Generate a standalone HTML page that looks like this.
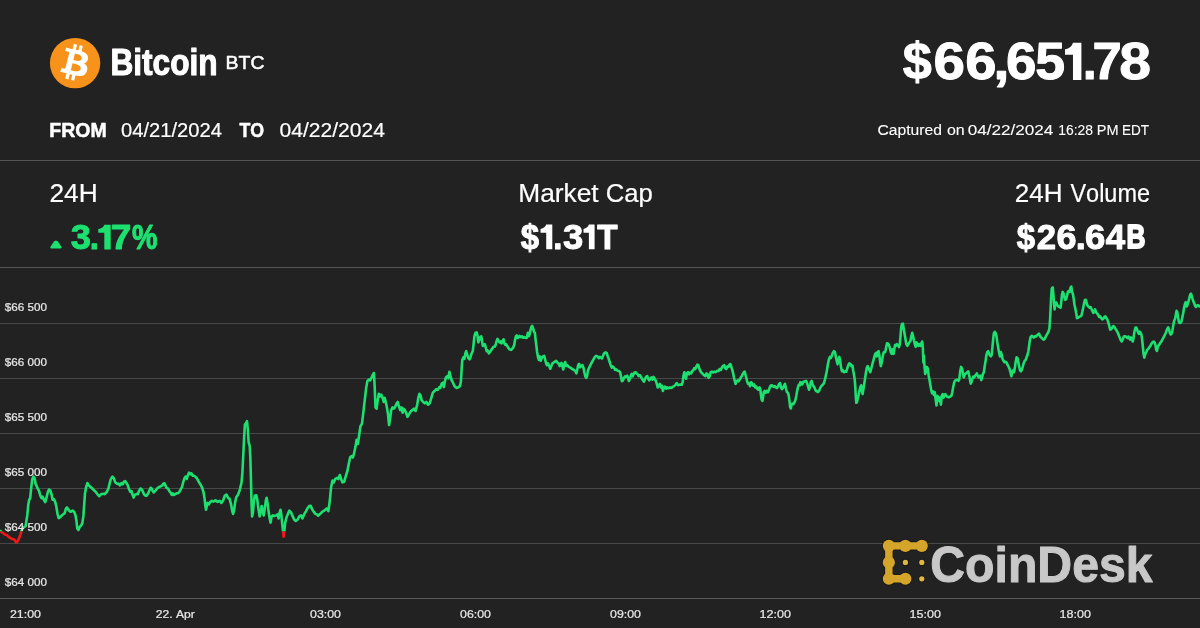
<!DOCTYPE html>
<html><head><meta charset="utf-8"><title>Bitcoin BTC price</title>
<style>
html,body{margin:0;padding:0;background:#222222;}
body{width:1200px;height:628px;overflow:hidden;font-family:"Liberation Sans",sans-serif;}
svg{display:block;will-change:transform;font-family:"Liberation Sans",sans-serif;font-kerning:none;}
text{white-space:pre;}
</style></head><body>
<svg width="1200" height="628" viewBox="0 0 1200 628">
<rect width="1200" height="628" fill="#222222"/>
<rect x="0" y="160" width="1200" height="1" fill="#555555"/>
<rect x="0" y="267" width="1200" height="1" fill="#555555"/>
<rect x="0" y="323" width="1200" height="1" fill="#484848"/>
<rect x="0" y="378" width="1200" height="1" fill="#484848"/>
<rect x="0" y="433" width="1200" height="1" fill="#484848"/>
<rect x="0" y="488" width="1200" height="1" fill="#484848"/>
<rect x="0" y="543" width="1200" height="1" fill="#484848"/>
<rect x="0" y="598" width="1200" height="1" fill="#5a5a5a"/>
<defs><clipPath id="up"><rect x="0" y="260" width="1200" height="271.4"/></clipPath><clipPath id="dn"><rect x="0" y="531.4" width="1200" height="80"/></clipPath></defs>
<path d="M0.0 530.8 L2.9 533.0 L4.8 534.4 L6.7 534.9 L8.6 536.8 L11.5 538.7 L14.3 539.6 L16.2 542.5 L17.7 541.1 L19.1 538.2 L20.5 534.4 L21.5 531.0 L22.4 528.7 L23.2 527.7 L25.6 526.1 L27.2 515.7 L28.3 504.6 L29.2 499.8 L30.2 498.2 L31.1 488.7 L32.3 479.1 L33.5 476.7 L34.6 478.3 L35.6 483.9 L36.7 486.3 L37.8 488.7 L39.1 491.1 L40.4 495.8 L41.5 498.2 L42.6 496.6 L43.9 499.8 L45.2 502.2 L46.4 498.2 L47.7 492.6 L49.0 489.5 L50.3 490.3 L51.5 494.2 L52.6 499.8 L53.8 499.0 L55.0 501.4 L56.3 506.2 L57.4 513.3 L58.7 518.1 L60.1 517.3 L61.7 515.7 L63.3 514.1 L64.6 513.3 L65.9 508.6 L67.0 507.5 L68.2 509.4 L69.7 511.3 L71.0 511.8 L72.5 510.6 L74.1 511.8 L75.4 514.9 L76.4 520.5 L77.3 528.5 L78.4 530.1 L79.7 526.9 L81.3 525.3 L82.4 522.9 L83.4 515.7 L84.2 504.6 L85.0 493.4 L86.1 487.1 L87.4 483.1 L88.8 485.5 L90.9 487.1 L93.2 489.5 L95.6 491.8 L97.5 494.2 L99.1 496.3 L101.2 494.2 L102.8 493.8 L104.7 494.2 L106.8 491.8 L108.4 488.7 L109.5 483.9 L110.8 479.1 L112.4 476.7 L113.9 478.3 L115.2 482.3 L116.8 483.6 L118.4 483.9 L118.8 483.8 L119.9 485.4 L121.5 483.0 L122.7 484.3 L124.0 481.7 L125.1 481.1 L126.4 483.0 L127.8 485.4 L129.1 489.4 L130.4 491.8 L131.5 491.0 L132.6 494.9 L133.6 497.6 L134.7 494.9 L136.3 494.1 L137.9 494.1 L139.0 491.0 L140.3 488.6 L141.5 489.0 L142.6 491.0 L143.9 494.1 L145.4 495.7 L146.6 495.7 L148.2 493.3 L149.5 490.2 L150.6 487.8 L151.7 488.6 L152.7 491.0 L153.8 492.5 L155.1 491.0 L156.5 489.4 L157.8 487.8 L159.4 487.0 L161.0 486.2 L162.2 485.4 L163.3 483.8 L164.5 483.3 L165.4 485.4 L166.5 487.8 L168.1 488.6 L169.2 491.0 L170.5 492.5 L171.8 494.9 L172.9 493.3 L174.0 494.9 L175.3 494.1 L176.6 493.3 L178.2 493.3 L179.4 491.8 L180.7 489.4 L182.0 487.0 L183.2 482.2 L184.5 478.2 L185.6 476.6 L186.8 479.0 L187.7 475.8 L189.1 472.6 L190.4 474.2 L191.5 473.4 L192.8 475.8 L194.4 475.8 L196.0 477.4 L197.3 479.0 L198.5 481.4 L200.0 483.8 L201.1 485.4 L202.4 488.6 L203.6 492.5 L204.6 498.9 L205.4 506.1 L206.0 509.7 L206.8 506.1 L207.6 502.9 L208.7 504.5 L210.3 501.9 L212.0 500.9 L213.7 501.5 L215.5 500.3 L217.6 501.9 L219.7 500.9 L221.3 503.0 L223.2 500.3 L224.8 495.7 L226.5 494.7 L228.1 497.8 L229.6 498.8 L231.0 504.0 L232.3 511.3 L233.1 513.9 L234.1 510.2 L235.2 501.9 L236.4 496.8 L237.7 495.3 L238.9 492.6 L240.1 488.5 L241.4 483.3 L242.4 473.0 L243.2 456.4 L244.1 437.8 L244.9 424.3 L245.9 423.3 L247.0 421.2 L247.8 429.5 L248.6 441.9 L249.7 446.1 L250.3 456.4 L250.9 477.1 L251.5 501.9 L252.1 516.4 L253.0 512.3 L253.8 501.9 L254.8 495.7 L256.3 495.3 L257.3 499.9 L258.3 508.2 L259.6 516.4 L260.8 510.2 L261.7 506.1 L262.7 512.3 L263.7 515.4 L264.8 508.2 L265.8 500.9 L266.6 497.8 L267.7 504.0 L268.7 512.3 L269.7 518.5 L270.6 522.6 L271.6 516.4 L272.8 515.4 L274.5 516.0 L276.1 515.4 L277.6 514.4 L278.6 518.5 L279.7 512.3 L280.5 509.8 L281.3 514.4 L282.1 522.6 L283.0 530.9 L283.6 536.7 L284.4 530.9 L285.2 522.6 L286.5 517.5 L287.9 513.9 L289.4 510.6 L291.0 512.3 L292.7 516.4 L294.1 519.5 L295.8 521.0 L297.7 519.5 L299.3 516.4 L301.0 515.4 L302.4 518.5 L304.1 514.4 L305.9 511.3 L307.6 508.2 L309.2 506.1 L310.7 505.7 L312.1 509.2 L313.8 511.9 L315.4 513.9 L317.5 514.8 L318.1 515.7 L320.3 513.8 L322.5 511.6 L324.9 510.2 L326.8 508.3 L328.4 511.1 L329.8 500.8 L331.1 487.2 L332.5 480.5 L333.8 482.4 L335.2 479.1 L337.1 477.8 L338.4 479.1 L339.8 475.0 L341.1 479.1 L342.5 482.4 L344.1 481.8 L345.7 476.4 L347.4 471.0 L348.7 464.2 L350.1 457.5 L351.4 456.1 L352.8 457.5 L354.1 453.4 L355.5 446.6 L356.6 439.9 L357.9 443.9 L359.3 434.4 L360.4 426.3 L362.0 423.6 L363.3 412.8 L364.7 400.6 L366.1 388.4 L367.4 381.1 L368.8 379.5 L370.1 380.3 L371.5 377.6 L372.8 374.9 L373.9 373.0 L374.7 387.1 L375.5 407.4 L376.6 408.7 L377.7 400.6 L378.8 393.8 L379.9 396.5 L381.2 394.6 L382.6 397.9 L383.7 402.0 L384.7 397.9 L385.8 402.0 L386.9 407.4 L388.0 414.1 L389.1 425.0 L390.2 418.2 L391.2 410.1 L392.6 407.4 L393.9 408.7 L395.3 406.6 L396.7 403.3 L397.7 402.0 L398.8 406.0 L400.2 410.1 L401.5 407.4 L402.6 412.8 L403.7 408.7 L404.8 410.1 L406.1 412.8 L407.5 416.8 L409.1 414.1 L410.7 411.4 L412.4 410.1 L414.0 408.7 L415.6 410.9 L417.2 404.7 L418.3 397.9 L419.4 393.8 L420.5 395.2 L421.6 400.1 L423.2 402.0 L424.8 403.3 L426.4 402.0 L428.1 404.7 L429.7 403.3 L431.3 397.9 L432.9 392.5 L434.6 391.1 L436.2 389.2 L437.8 389.8 L439.4 387.1 L440.3 387.9 L441.7 383.6 L442.9 382.7 L443.8 387.1 L444.8 381.8 L445.9 377.4 L447.3 376.2 L448.3 378.3 L449.4 371.7 L450.4 375.7 L451.6 380.1 L453.0 382.7 L454.6 386.2 L456.4 387.9 L458.1 387.4 L459.9 386.2 L460.9 381.8 L461.6 369.6 L462.3 359.9 L463.4 357.3 L464.4 359.0 L465.3 353.8 L466.2 351.2 L467.2 354.7 L468.3 358.2 L469.5 359.4 L470.7 356.4 L471.8 352.9 L472.8 351.2 L473.5 345.0 L474.4 336.3 L475.5 332.8 L476.7 332.4 L477.6 336.3 L478.3 342.4 L479.3 339.8 L480.2 337.1 L481.3 336.3 L482.0 340.7 L482.8 345.9 L483.9 345.0 L484.8 344.2 L485.8 347.7 L486.7 351.2 L487.6 350.3 L488.8 353.4 L490.0 352.0 L491.1 350.3 L492.3 348.5 L493.5 346.8 L494.6 346.8 L495.6 345.0 L496.5 341.5 L497.5 338.9 L498.4 340.7 L499.5 342.4 L500.5 341.5 L501.6 343.3 L502.6 340.7 L503.5 339.4 L504.4 343.3 L505.3 345.0 L506.1 344.2 L507.2 345.9 L508.2 347.7 L509.5 349.4 L510.9 349.9 L512.1 348.9 L513.1 347.7 L514.2 345.0 L515.1 339.8 L515.9 336.3 L516.8 335.4 L517.7 338.0 L518.6 337.1 L519.6 335.9 L520.8 337.1 L522.1 336.3 L523.1 337.7 L524.4 337.1 L525.6 338.0 L526.8 337.7 L527.9 332.8 L528.7 336.3 L529.6 334.5 L530.5 330.1 L531.4 326.6 L532.2 325.8 L533.1 328.4 L534.0 331.9 L534.9 332.8 L535.6 339.8 L536.3 345.0 L537.1 352.0 L538.0 357.3 L538.9 359.9 L539.8 356.4 L540.8 360.8 L541.9 357.3 L543.1 356.4 L544.2 355.9 L545.0 359.0 L545.9 362.5 L546.8 365.2 L548.0 363.4 L549.2 366.1 L550.3 368.7 L551.3 366.1 L552.4 363.4 L553.6 362.5 L554.8 361.7 L556.2 360.8 L557.3 362.5 L558.5 363.4 L559.7 366.1 L561.1 363.4 L561.5 362.9 L562.4 365.9 L563.2 369.4 L564.1 364.7 L565.2 362.0 L566.0 365.9 L567.3 365.2 L568.7 366.9 L570.4 367.6 L572.2 369.0 L573.9 369.9 L575.3 371.1 L576.4 373.4 L577.4 369.0 L578.3 364.7 L579.2 363.8 L580.2 367.3 L581.3 365.9 L582.5 365.2 L583.6 368.2 L584.4 372.5 L585.3 376.4 L586.2 377.8 L587.1 376.1 L587.9 370.8 L589.2 367.6 L590.6 364.7 L592.1 362.0 L593.5 359.4 L594.9 356.8 L596.3 355.9 L597.6 356.4 L598.8 358.2 L599.9 356.8 L600.9 357.7 L602.0 358.5 L603.0 355.9 L604.1 353.3 L605.5 352.4 L606.7 352.9 L607.6 355.9 L608.6 358.5 L609.7 362.0 L610.7 365.2 L611.8 367.6 L612.8 366.4 L614.0 367.6 L615.1 369.9 L616.3 369.4 L617.7 370.8 L619.1 371.1 L620.2 372.5 L621.1 376.9 L621.9 381.3 L623.0 380.4 L624.0 377.8 L625.1 376.4 L626.1 376.9 L627.2 375.7 L628.2 378.7 L628.9 381.0 L630.0 378.7 L630.9 375.2 L631.7 373.9 L632.6 376.4 L633.5 374.3 L634.5 372.5 L635.6 372.2 L636.6 373.4 L637.7 374.3 L638.7 376.1 L639.8 375.2 L640.8 376.4 L641.9 378.7 L643.0 380.4 L644.0 381.7 L645.1 378.7 L646.1 376.9 L647.2 376.1 L648.2 378.7 L649.3 380.4 L650.3 378.7 L651.4 377.5 L652.4 379.6 L653.5 376.9 L654.5 378.7 L655.7 380.4 L656.6 383.1 L657.7 387.4 L658.7 385.7 L659.8 383.9 L660.8 387.4 L661.9 385.7 L662.9 390.9 L664.0 387.4 L665.0 386.6 L666.1 388.7 L667.1 387.4 L668.5 388.3 L669.9 387.4 L671.3 388.0 L672.7 386.9 L674.1 386.2 L675.5 384.8 L676.8 383.1 L678.0 385.2 L679.4 384.8 L680.3 384.5 L681.7 384.8 L682.7 382.2 L683.4 376.1 L684.3 372.2 L685.2 376.1 L686.0 378.7 L686.9 373.4 L688.0 372.2 L689.0 374.3 L690.1 372.5 L691.1 373.4 L692.2 371.1 L693.2 370.4 L694.3 368.2 L695.3 369.0 L696.4 366.4 L697.4 364.7 L698.3 365.2 L699.2 368.2 L700.2 370.8 L701.3 372.5 L702.7 373.9 L704.1 375.2 L705.5 376.1 L706.5 373.4 L707.6 374.3 L708.6 377.8 L709.7 376.1 L710.7 372.2 L711.8 371.7 L713.0 372.5 L714.2 371.7 L715.6 372.2 L717.0 370.8 L718.5 371.1 L719.7 369.0 L720.9 369.9 L722.0 367.3 L723.2 365.9 L724.2 365.2 L725.3 368.2 L726.3 369.0 L727.4 366.4 L728.4 366.9 L729.5 364.7 L730.5 364.1 L731.4 367.3 L732.3 369.9 L733.2 373.4 L734.0 377.8 L734.9 381.3 L735.6 383.9 L736.5 381.3 L737.5 380.4 L738.6 381.3 L739.6 379.6 L740.7 377.8 L741.8 376.1 L742.8 373.9 L743.9 372.2 L744.7 371.7 L745.6 375.2 L746.5 378.7 L747.4 382.2 L748.2 383.9 L749.1 383.1 L750.0 386.2 L751.0 382.2 L752.1 383.4 L753.1 385.7 L754.2 384.5 L755.2 387.4 L756.3 386.6 L757.3 388.7 L758.4 389.7 L759.4 387.4 L760.3 389.2 L761.0 395.3 L761.7 399.7 L762.4 400.9 L763.1 397.1 L763.8 391.8 L764.7 390.9 L765.8 392.7 L766.8 390.9 L767.9 392.2 L768.9 390.1 L769.8 387.4 L770.7 385.7 L771.7 385.2 L772.8 386.2 L773.8 386.9 L774.9 386.2 L775.9 387.4 L777.0 388.0 L778.0 386.6 L779.1 383.9 L780.1 383.1 L781.0 387.4 L781.9 389.2 L782.9 388.0 L784.0 385.7 L785.0 383.9 L785.9 388.3 L786.8 391.8 L787.8 392.7 L788.7 395.3 L789.4 400.6 L790.1 406.7 L790.8 408.5 L791.5 405.0 L792.4 403.7 L793.4 404.1 L794.5 402.3 L795.5 399.7 L796.4 395.3 L797.3 390.1 L798.2 386.2 L799.0 384.5 L800.1 385.2 L800.3 382.2 L801.3 382.7 L802.4 384.4 L803.4 381.8 L804.6 381.5 L805.9 380.9 L806.9 382.7 L808.0 386.2 L809.0 389.7 L810.1 387.1 L810.8 381.8 L811.6 380.9 L812.5 384.4 L813.6 386.2 L814.6 387.9 L815.7 390.6 L816.9 391.4 L818.1 392.0 L819.2 390.6 L820.2 387.9 L821.3 386.2 L822.5 385.0 L823.7 383.6 L824.8 380.1 L825.8 375.7 L826.9 370.4 L827.9 364.3 L829.0 359.0 L829.9 356.9 L830.7 358.2 L831.8 355.9 L832.8 352.9 L833.9 351.2 L834.9 352.0 L835.8 356.4 L836.7 360.8 L837.6 364.3 L838.5 359.9 L839.3 356.9 L840.2 360.8 L841.1 367.8 L842.0 371.3 L843.0 370.4 L844.1 372.2 L845.1 371.3 L846.2 371.7 L847.2 368.7 L848.3 365.2 L849.3 363.4 L850.4 363.9 L851.4 366.1 L852.5 365.7 L853.2 370.4 L854.0 374.8 L854.7 379.2 L855.3 387.1 L855.8 396.7 L856.3 402.8 L857.0 402.0 L857.7 398.5 L858.6 395.0 L859.5 390.6 L860.4 387.1 L861.2 385.3 L861.9 390.6 L862.6 394.1 L863.3 389.7 L864.2 384.4 L865.1 378.3 L866.0 372.2 L866.8 367.8 L867.7 366.1 L868.6 368.7 L869.5 370.4 L870.3 372.2 L871.2 368.7 L872.1 365.2 L873.1 361.7 L874.2 357.3 L875.2 353.8 L876.1 352.9 L876.8 356.4 L877.7 352.0 L878.6 351.2 L879.4 355.5 L880.1 361.7 L880.8 366.1 L881.7 362.5 L882.6 357.3 L883.5 352.9 L884.4 351.7 L885.2 352.0 L886.1 347.7 L887.0 343.3 L888.0 343.6 L888.9 345.0 L889.8 347.7 L890.7 352.0 L891.5 353.8 L892.2 349.4 L892.9 351.2 L893.6 353.8 L894.3 349.4 L895.0 345.0 L895.9 345.9 L896.8 344.2 L897.8 345.0 L898.9 347.1 L899.8 344.2 L900.5 336.3 L901.2 327.5 L902.0 324.0 L902.9 323.7 L903.8 329.3 L904.7 334.5 L905.6 339.8 L906.4 344.2 L907.3 345.9 L908.4 344.2 L909.4 342.4 L910.5 340.7 L911.3 336.3 L912.2 332.8 L913.1 336.3 L914.0 340.7 L914.8 344.2 L915.7 346.8 L916.6 342.4 L917.5 344.2 L918.3 345.9 L919.4 344.2 L920.4 345.9 L921.3 343.3 L922.2 341.5 L922.9 348.5 L923.4 362.5 L923.8 355.5 L924.5 366.1 L925.2 373.9 L926.0 371.3 L926.9 366.9 L927.8 368.7 L928.7 375.7 L929.5 380.1 L930.4 385.3 L931.3 390.6 L932.2 393.2 L933.0 391.4 L933.9 395.0 L934.8 392.3 L935.7 399.3 L936.5 405.5 L937.4 395.8 L938.3 397.6 L939.2 401.1 L940.1 397.6 L940.9 404.6 L941.8 395.8 L942.7 394.1 L943.6 397.6 L944.4 395.0 L945.3 394.1 L946.2 395.8 L947.4 396.7 L948.6 397.2 L950.0 396.7 L951.4 395.8 L952.3 392.3 L953.2 387.1 L954.1 382.7 L954.9 380.9 L956.2 380.1 L957.4 379.7 L958.5 380.9 L959.3 379.2 L960.2 371.3 L961.1 366.9 L962.0 368.7 L962.8 372.2 L963.7 377.4 L964.6 374.8 L965.5 373.9 L966.3 373.1 L967.2 372.2 L968.3 371.3 L969.0 374.8 L969.8 378.3 L970.7 383.6 L971.6 381.8 L972.5 378.3 L973.3 376.6 L974.2 377.4 L975.1 375.7 L976.0 374.8 L976.8 373.4 L977.7 375.7 L978.6 377.4 L979.5 376.6 L980.4 375.7 L981.2 380.1 L982.1 377.4 L983.0 373.9 L983.9 372.2 L984.7 366.1 L985.6 360.8 L986.5 354.7 L987.4 352.0 L988.2 351.2 L989.1 353.8 L990.0 355.5 L990.9 356.4 L991.7 354.7 L992.4 347.7 L993.1 339.8 L993.8 333.6 L994.7 331.9 L995.6 332.8 L996.5 336.3 L997.3 342.4 L998.2 347.7 L999.1 352.9 L1000.0 356.4 L1000.8 352.0 L1001.7 354.7 L1002.6 359.0 L1003.5 360.8 L1004.5 362.2 L1005.6 361.7 L1006.6 362.5 L1007.7 365.2 L1008.7 366.9 L1009.8 369.6 L1010.7 373.1 L1011.4 376.2 L1012.2 372.2 L1013.1 370.4 L1014.0 372.2 L1014.9 367.8 L1015.7 361.7 L1016.6 357.3 L1017.5 358.2 L1018.4 362.5 L1019.2 366.9 L1020.1 370.4 L1021.0 371.3 L1021.9 369.6 L1022.7 366.9 L1023.6 363.4 L1024.7 360.8 L1025.7 359.9 L1026.6 357.3 L1027.5 354.7 L1028.4 351.2 L1029.1 345.9 L1029.8 340.7 L1030.6 337.1 L1031.7 335.9 L1032.7 336.6 L1033.8 337.7 L1034.8 336.3 L1035.9 336.6 L1036.9 335.4 L1038.0 334.5 L1039.0 333.6 L1040.1 336.3 L1041.1 337.4 L1042.4 338.7 L1043.8 339.7 L1045.0 338.3 L1046.0 336.2 L1047.3 333.9 L1048.5 331.7 L1049.4 328.7 L1050.1 319.0 L1050.6 308.5 L1051.1 298.0 L1051.8 288.4 L1052.7 287.5 L1053.4 294.5 L1053.9 302.4 L1054.6 309.4 L1055.3 304.2 L1056.2 302.4 L1057.3 305.0 L1058.3 306.4 L1059.5 307.1 L1060.6 307.7 L1061.3 301.5 L1062.0 294.5 L1062.7 291.9 L1063.6 293.6 L1064.4 297.1 L1065.3 299.8 L1066.2 298.9 L1067.1 295.4 L1067.9 291.9 L1068.8 291.0 L1069.7 291.9 L1070.6 287.5 L1071.3 286.6 L1072.1 291.9 L1073.0 294.5 L1073.7 298.9 L1074.4 304.2 L1075.3 308.5 L1076.2 312.9 L1077.0 318.2 L1078.1 317.6 L1079.2 316.9 L1080.2 316.4 L1081.3 315.9 L1082.3 312.0 L1083.2 307.7 L1084.1 303.3 L1084.9 300.1 L1085.8 299.8 L1086.7 303.3 L1087.6 305.9 L1088.6 306.8 L1089.7 307.7 L1090.7 307.1 L1091.6 309.4 L1092.5 311.2 L1093.3 312.9 L1094.2 311.7 L1095.1 309.4 L1096.0 312.0 L1097.0 313.4 L1098.1 314.7 L1099.1 316.9 L1100.2 316.4 L1101.2 318.2 L1102.3 319.4 L1103.3 318.7 L1104.4 316.9 L1105.4 316.4 L1106.5 318.2 L1107.5 319.9 L1108.4 322.5 L1109.3 326.1 L1110.2 329.6 L1111.2 329.2 L1112.3 327.5 L1113.3 326.1 L1114.4 326.9 L1115.4 328.7 L1116.5 330.4 L1117.5 332.2 L1118.6 334.8 L1119.6 337.4 L1120.7 340.1 L1121.7 341.5 L1122.8 339.2 L1123.8 336.6 L1125.1 336.2 L1126.3 336.9 L1127.3 338.0 L1128.4 336.6 L1129.3 338.3 L1130.1 339.7 L1131.0 337.4 L1131.9 339.2 L1132.8 341.5 L1133.6 337.4 L1134.5 331.3 L1135.4 327.8 L1136.3 327.5 L1137.1 329.6 L1138.0 332.2 L1138.9 333.9 L1139.8 331.7 L1140.6 332.7 L1141.5 334.8 L1142.2 340.1 L1142.9 347.1 L1143.6 354.1 L1144.3 357.6 L1145.2 354.1 L1146.3 352.0 L1147.3 349.7 L1148.4 348.8 L1149.4 347.1 L1150.5 345.7 L1151.5 343.6 L1152.6 342.2 L1153.6 341.5 L1154.7 342.7 L1155.5 345.3 L1156.2 349.7 L1156.9 350.9 L1157.6 347.9 L1158.5 345.3 L1159.0 345.2 L1160.1 343.1 L1161.3 341.6 L1162.4 339.5 L1163.6 337.3 L1164.7 335.2 L1165.9 332.7 L1167.0 329.4 L1168.2 327.3 L1169.0 329.4 L1169.9 333.0 L1170.8 334.5 L1171.6 333.7 L1172.5 330.2 L1173.3 325.1 L1174.2 320.8 L1175.1 318.7 L1175.9 314.4 L1176.6 310.8 L1177.3 312.2 L1178.1 317.3 L1178.8 321.6 L1179.6 323.0 L1180.5 322.7 L1181.4 321.6 L1182.2 318.0 L1183.1 313.7 L1183.9 308.7 L1184.8 304.4 L1185.7 302.2 L1186.4 306.5 L1187.1 305.8 L1187.8 303.6 L1188.5 301.5 L1189.4 297.9 L1190.3 294.3 L1191.0 293.6 L1191.7 295.8 L1192.5 298.6 L1193.4 301.5 L1194.3 303.6 L1195.1 305.8 L1196.0 306.9 L1196.8 305.8 L1197.7 305.1 L1198.6 305.8 L1199.4 306.5 L1200.6 306.1" fill="none" stroke="#1de070" stroke-width="2.6" stroke-linejoin="round" stroke-linecap="round" clip-path="url(#up)"/>
<path d="M0.0 530.8 L2.9 533.0 L4.8 534.4 L6.7 534.9 L8.6 536.8 L11.5 538.7 L14.3 539.6 L16.2 542.5 L17.7 541.1 L19.1 538.2 L20.5 534.4 L21.5 531.0 L22.4 528.7 L23.2 527.7 L25.6 526.1 L27.2 515.7 L28.3 504.6 L29.2 499.8 L30.2 498.2 L31.1 488.7 L32.3 479.1 L33.5 476.7 L34.6 478.3 L35.6 483.9 L36.7 486.3 L37.8 488.7 L39.1 491.1 L40.4 495.8 L41.5 498.2 L42.6 496.6 L43.9 499.8 L45.2 502.2 L46.4 498.2 L47.7 492.6 L49.0 489.5 L50.3 490.3 L51.5 494.2 L52.6 499.8 L53.8 499.0 L55.0 501.4 L56.3 506.2 L57.4 513.3 L58.7 518.1 L60.1 517.3 L61.7 515.7 L63.3 514.1 L64.6 513.3 L65.9 508.6 L67.0 507.5 L68.2 509.4 L69.7 511.3 L71.0 511.8 L72.5 510.6 L74.1 511.8 L75.4 514.9 L76.4 520.5 L77.3 528.5 L78.4 530.1 L79.7 526.9 L81.3 525.3 L82.4 522.9 L83.4 515.7 L84.2 504.6 L85.0 493.4 L86.1 487.1 L87.4 483.1 L88.8 485.5 L90.9 487.1 L93.2 489.5 L95.6 491.8 L97.5 494.2 L99.1 496.3 L101.2 494.2 L102.8 493.8 L104.7 494.2 L106.8 491.8 L108.4 488.7 L109.5 483.9 L110.8 479.1 L112.4 476.7 L113.9 478.3 L115.2 482.3 L116.8 483.6 L118.4 483.9 L118.8 483.8 L119.9 485.4 L121.5 483.0 L122.7 484.3 L124.0 481.7 L125.1 481.1 L126.4 483.0 L127.8 485.4 L129.1 489.4 L130.4 491.8 L131.5 491.0 L132.6 494.9 L133.6 497.6 L134.7 494.9 L136.3 494.1 L137.9 494.1 L139.0 491.0 L140.3 488.6 L141.5 489.0 L142.6 491.0 L143.9 494.1 L145.4 495.7 L146.6 495.7 L148.2 493.3 L149.5 490.2 L150.6 487.8 L151.7 488.6 L152.7 491.0 L153.8 492.5 L155.1 491.0 L156.5 489.4 L157.8 487.8 L159.4 487.0 L161.0 486.2 L162.2 485.4 L163.3 483.8 L164.5 483.3 L165.4 485.4 L166.5 487.8 L168.1 488.6 L169.2 491.0 L170.5 492.5 L171.8 494.9 L172.9 493.3 L174.0 494.9 L175.3 494.1 L176.6 493.3 L178.2 493.3 L179.4 491.8 L180.7 489.4 L182.0 487.0 L183.2 482.2 L184.5 478.2 L185.6 476.6 L186.8 479.0 L187.7 475.8 L189.1 472.6 L190.4 474.2 L191.5 473.4 L192.8 475.8 L194.4 475.8 L196.0 477.4 L197.3 479.0 L198.5 481.4 L200.0 483.8 L201.1 485.4 L202.4 488.6 L203.6 492.5 L204.6 498.9 L205.4 506.1 L206.0 509.7 L206.8 506.1 L207.6 502.9 L208.7 504.5 L210.3 501.9 L212.0 500.9 L213.7 501.5 L215.5 500.3 L217.6 501.9 L219.7 500.9 L221.3 503.0 L223.2 500.3 L224.8 495.7 L226.5 494.7 L228.1 497.8 L229.6 498.8 L231.0 504.0 L232.3 511.3 L233.1 513.9 L234.1 510.2 L235.2 501.9 L236.4 496.8 L237.7 495.3 L238.9 492.6 L240.1 488.5 L241.4 483.3 L242.4 473.0 L243.2 456.4 L244.1 437.8 L244.9 424.3 L245.9 423.3 L247.0 421.2 L247.8 429.5 L248.6 441.9 L249.7 446.1 L250.3 456.4 L250.9 477.1 L251.5 501.9 L252.1 516.4 L253.0 512.3 L253.8 501.9 L254.8 495.7 L256.3 495.3 L257.3 499.9 L258.3 508.2 L259.6 516.4 L260.8 510.2 L261.7 506.1 L262.7 512.3 L263.7 515.4 L264.8 508.2 L265.8 500.9 L266.6 497.8 L267.7 504.0 L268.7 512.3 L269.7 518.5 L270.6 522.6 L271.6 516.4 L272.8 515.4 L274.5 516.0 L276.1 515.4 L277.6 514.4 L278.6 518.5 L279.7 512.3 L280.5 509.8 L281.3 514.4 L282.1 522.6 L283.0 530.9 L283.6 536.7 L284.4 530.9 L285.2 522.6 L286.5 517.5 L287.9 513.9 L289.4 510.6 L291.0 512.3 L292.7 516.4 L294.1 519.5 L295.8 521.0 L297.7 519.5 L299.3 516.4 L301.0 515.4 L302.4 518.5 L304.1 514.4 L305.9 511.3 L307.6 508.2 L309.2 506.1 L310.7 505.7 L312.1 509.2 L313.8 511.9 L315.4 513.9 L317.5 514.8 L318.1 515.7 L320.3 513.8 L322.5 511.6 L324.9 510.2 L326.8 508.3 L328.4 511.1 L329.8 500.8 L331.1 487.2 L332.5 480.5 L333.8 482.4 L335.2 479.1 L337.1 477.8 L338.4 479.1 L339.8 475.0 L341.1 479.1 L342.5 482.4 L344.1 481.8 L345.7 476.4 L347.4 471.0 L348.7 464.2 L350.1 457.5 L351.4 456.1 L352.8 457.5 L354.1 453.4 L355.5 446.6 L356.6 439.9 L357.9 443.9 L359.3 434.4 L360.4 426.3 L362.0 423.6 L363.3 412.8 L364.7 400.6 L366.1 388.4 L367.4 381.1 L368.8 379.5 L370.1 380.3 L371.5 377.6 L372.8 374.9 L373.9 373.0 L374.7 387.1 L375.5 407.4 L376.6 408.7 L377.7 400.6 L378.8 393.8 L379.9 396.5 L381.2 394.6 L382.6 397.9 L383.7 402.0 L384.7 397.9 L385.8 402.0 L386.9 407.4 L388.0 414.1 L389.1 425.0 L390.2 418.2 L391.2 410.1 L392.6 407.4 L393.9 408.7 L395.3 406.6 L396.7 403.3 L397.7 402.0 L398.8 406.0 L400.2 410.1 L401.5 407.4 L402.6 412.8 L403.7 408.7 L404.8 410.1 L406.1 412.8 L407.5 416.8 L409.1 414.1 L410.7 411.4 L412.4 410.1 L414.0 408.7 L415.6 410.9 L417.2 404.7 L418.3 397.9 L419.4 393.8 L420.5 395.2 L421.6 400.1 L423.2 402.0 L424.8 403.3 L426.4 402.0 L428.1 404.7 L429.7 403.3 L431.3 397.9 L432.9 392.5 L434.6 391.1 L436.2 389.2 L437.8 389.8 L439.4 387.1 L440.3 387.9 L441.7 383.6 L442.9 382.7 L443.8 387.1 L444.8 381.8 L445.9 377.4 L447.3 376.2 L448.3 378.3 L449.4 371.7 L450.4 375.7 L451.6 380.1 L453.0 382.7 L454.6 386.2 L456.4 387.9 L458.1 387.4 L459.9 386.2 L460.9 381.8 L461.6 369.6 L462.3 359.9 L463.4 357.3 L464.4 359.0 L465.3 353.8 L466.2 351.2 L467.2 354.7 L468.3 358.2 L469.5 359.4 L470.7 356.4 L471.8 352.9 L472.8 351.2 L473.5 345.0 L474.4 336.3 L475.5 332.8 L476.7 332.4 L477.6 336.3 L478.3 342.4 L479.3 339.8 L480.2 337.1 L481.3 336.3 L482.0 340.7 L482.8 345.9 L483.9 345.0 L484.8 344.2 L485.8 347.7 L486.7 351.2 L487.6 350.3 L488.8 353.4 L490.0 352.0 L491.1 350.3 L492.3 348.5 L493.5 346.8 L494.6 346.8 L495.6 345.0 L496.5 341.5 L497.5 338.9 L498.4 340.7 L499.5 342.4 L500.5 341.5 L501.6 343.3 L502.6 340.7 L503.5 339.4 L504.4 343.3 L505.3 345.0 L506.1 344.2 L507.2 345.9 L508.2 347.7 L509.5 349.4 L510.9 349.9 L512.1 348.9 L513.1 347.7 L514.2 345.0 L515.1 339.8 L515.9 336.3 L516.8 335.4 L517.7 338.0 L518.6 337.1 L519.6 335.9 L520.8 337.1 L522.1 336.3 L523.1 337.7 L524.4 337.1 L525.6 338.0 L526.8 337.7 L527.9 332.8 L528.7 336.3 L529.6 334.5 L530.5 330.1 L531.4 326.6 L532.2 325.8 L533.1 328.4 L534.0 331.9 L534.9 332.8 L535.6 339.8 L536.3 345.0 L537.1 352.0 L538.0 357.3 L538.9 359.9 L539.8 356.4 L540.8 360.8 L541.9 357.3 L543.1 356.4 L544.2 355.9 L545.0 359.0 L545.9 362.5 L546.8 365.2 L548.0 363.4 L549.2 366.1 L550.3 368.7 L551.3 366.1 L552.4 363.4 L553.6 362.5 L554.8 361.7 L556.2 360.8 L557.3 362.5 L558.5 363.4 L559.7 366.1 L561.1 363.4 L561.5 362.9 L562.4 365.9 L563.2 369.4 L564.1 364.7 L565.2 362.0 L566.0 365.9 L567.3 365.2 L568.7 366.9 L570.4 367.6 L572.2 369.0 L573.9 369.9 L575.3 371.1 L576.4 373.4 L577.4 369.0 L578.3 364.7 L579.2 363.8 L580.2 367.3 L581.3 365.9 L582.5 365.2 L583.6 368.2 L584.4 372.5 L585.3 376.4 L586.2 377.8 L587.1 376.1 L587.9 370.8 L589.2 367.6 L590.6 364.7 L592.1 362.0 L593.5 359.4 L594.9 356.8 L596.3 355.9 L597.6 356.4 L598.8 358.2 L599.9 356.8 L600.9 357.7 L602.0 358.5 L603.0 355.9 L604.1 353.3 L605.5 352.4 L606.7 352.9 L607.6 355.9 L608.6 358.5 L609.7 362.0 L610.7 365.2 L611.8 367.6 L612.8 366.4 L614.0 367.6 L615.1 369.9 L616.3 369.4 L617.7 370.8 L619.1 371.1 L620.2 372.5 L621.1 376.9 L621.9 381.3 L623.0 380.4 L624.0 377.8 L625.1 376.4 L626.1 376.9 L627.2 375.7 L628.2 378.7 L628.9 381.0 L630.0 378.7 L630.9 375.2 L631.7 373.9 L632.6 376.4 L633.5 374.3 L634.5 372.5 L635.6 372.2 L636.6 373.4 L637.7 374.3 L638.7 376.1 L639.8 375.2 L640.8 376.4 L641.9 378.7 L643.0 380.4 L644.0 381.7 L645.1 378.7 L646.1 376.9 L647.2 376.1 L648.2 378.7 L649.3 380.4 L650.3 378.7 L651.4 377.5 L652.4 379.6 L653.5 376.9 L654.5 378.7 L655.7 380.4 L656.6 383.1 L657.7 387.4 L658.7 385.7 L659.8 383.9 L660.8 387.4 L661.9 385.7 L662.9 390.9 L664.0 387.4 L665.0 386.6 L666.1 388.7 L667.1 387.4 L668.5 388.3 L669.9 387.4 L671.3 388.0 L672.7 386.9 L674.1 386.2 L675.5 384.8 L676.8 383.1 L678.0 385.2 L679.4 384.8 L680.3 384.5 L681.7 384.8 L682.7 382.2 L683.4 376.1 L684.3 372.2 L685.2 376.1 L686.0 378.7 L686.9 373.4 L688.0 372.2 L689.0 374.3 L690.1 372.5 L691.1 373.4 L692.2 371.1 L693.2 370.4 L694.3 368.2 L695.3 369.0 L696.4 366.4 L697.4 364.7 L698.3 365.2 L699.2 368.2 L700.2 370.8 L701.3 372.5 L702.7 373.9 L704.1 375.2 L705.5 376.1 L706.5 373.4 L707.6 374.3 L708.6 377.8 L709.7 376.1 L710.7 372.2 L711.8 371.7 L713.0 372.5 L714.2 371.7 L715.6 372.2 L717.0 370.8 L718.5 371.1 L719.7 369.0 L720.9 369.9 L722.0 367.3 L723.2 365.9 L724.2 365.2 L725.3 368.2 L726.3 369.0 L727.4 366.4 L728.4 366.9 L729.5 364.7 L730.5 364.1 L731.4 367.3 L732.3 369.9 L733.2 373.4 L734.0 377.8 L734.9 381.3 L735.6 383.9 L736.5 381.3 L737.5 380.4 L738.6 381.3 L739.6 379.6 L740.7 377.8 L741.8 376.1 L742.8 373.9 L743.9 372.2 L744.7 371.7 L745.6 375.2 L746.5 378.7 L747.4 382.2 L748.2 383.9 L749.1 383.1 L750.0 386.2 L751.0 382.2 L752.1 383.4 L753.1 385.7 L754.2 384.5 L755.2 387.4 L756.3 386.6 L757.3 388.7 L758.4 389.7 L759.4 387.4 L760.3 389.2 L761.0 395.3 L761.7 399.7 L762.4 400.9 L763.1 397.1 L763.8 391.8 L764.7 390.9 L765.8 392.7 L766.8 390.9 L767.9 392.2 L768.9 390.1 L769.8 387.4 L770.7 385.7 L771.7 385.2 L772.8 386.2 L773.8 386.9 L774.9 386.2 L775.9 387.4 L777.0 388.0 L778.0 386.6 L779.1 383.9 L780.1 383.1 L781.0 387.4 L781.9 389.2 L782.9 388.0 L784.0 385.7 L785.0 383.9 L785.9 388.3 L786.8 391.8 L787.8 392.7 L788.7 395.3 L789.4 400.6 L790.1 406.7 L790.8 408.5 L791.5 405.0 L792.4 403.7 L793.4 404.1 L794.5 402.3 L795.5 399.7 L796.4 395.3 L797.3 390.1 L798.2 386.2 L799.0 384.5 L800.1 385.2 L800.3 382.2 L801.3 382.7 L802.4 384.4 L803.4 381.8 L804.6 381.5 L805.9 380.9 L806.9 382.7 L808.0 386.2 L809.0 389.7 L810.1 387.1 L810.8 381.8 L811.6 380.9 L812.5 384.4 L813.6 386.2 L814.6 387.9 L815.7 390.6 L816.9 391.4 L818.1 392.0 L819.2 390.6 L820.2 387.9 L821.3 386.2 L822.5 385.0 L823.7 383.6 L824.8 380.1 L825.8 375.7 L826.9 370.4 L827.9 364.3 L829.0 359.0 L829.9 356.9 L830.7 358.2 L831.8 355.9 L832.8 352.9 L833.9 351.2 L834.9 352.0 L835.8 356.4 L836.7 360.8 L837.6 364.3 L838.5 359.9 L839.3 356.9 L840.2 360.8 L841.1 367.8 L842.0 371.3 L843.0 370.4 L844.1 372.2 L845.1 371.3 L846.2 371.7 L847.2 368.7 L848.3 365.2 L849.3 363.4 L850.4 363.9 L851.4 366.1 L852.5 365.7 L853.2 370.4 L854.0 374.8 L854.7 379.2 L855.3 387.1 L855.8 396.7 L856.3 402.8 L857.0 402.0 L857.7 398.5 L858.6 395.0 L859.5 390.6 L860.4 387.1 L861.2 385.3 L861.9 390.6 L862.6 394.1 L863.3 389.7 L864.2 384.4 L865.1 378.3 L866.0 372.2 L866.8 367.8 L867.7 366.1 L868.6 368.7 L869.5 370.4 L870.3 372.2 L871.2 368.7 L872.1 365.2 L873.1 361.7 L874.2 357.3 L875.2 353.8 L876.1 352.9 L876.8 356.4 L877.7 352.0 L878.6 351.2 L879.4 355.5 L880.1 361.7 L880.8 366.1 L881.7 362.5 L882.6 357.3 L883.5 352.9 L884.4 351.7 L885.2 352.0 L886.1 347.7 L887.0 343.3 L888.0 343.6 L888.9 345.0 L889.8 347.7 L890.7 352.0 L891.5 353.8 L892.2 349.4 L892.9 351.2 L893.6 353.8 L894.3 349.4 L895.0 345.0 L895.9 345.9 L896.8 344.2 L897.8 345.0 L898.9 347.1 L899.8 344.2 L900.5 336.3 L901.2 327.5 L902.0 324.0 L902.9 323.7 L903.8 329.3 L904.7 334.5 L905.6 339.8 L906.4 344.2 L907.3 345.9 L908.4 344.2 L909.4 342.4 L910.5 340.7 L911.3 336.3 L912.2 332.8 L913.1 336.3 L914.0 340.7 L914.8 344.2 L915.7 346.8 L916.6 342.4 L917.5 344.2 L918.3 345.9 L919.4 344.2 L920.4 345.9 L921.3 343.3 L922.2 341.5 L922.9 348.5 L923.4 362.5 L923.8 355.5 L924.5 366.1 L925.2 373.9 L926.0 371.3 L926.9 366.9 L927.8 368.7 L928.7 375.7 L929.5 380.1 L930.4 385.3 L931.3 390.6 L932.2 393.2 L933.0 391.4 L933.9 395.0 L934.8 392.3 L935.7 399.3 L936.5 405.5 L937.4 395.8 L938.3 397.6 L939.2 401.1 L940.1 397.6 L940.9 404.6 L941.8 395.8 L942.7 394.1 L943.6 397.6 L944.4 395.0 L945.3 394.1 L946.2 395.8 L947.4 396.7 L948.6 397.2 L950.0 396.7 L951.4 395.8 L952.3 392.3 L953.2 387.1 L954.1 382.7 L954.9 380.9 L956.2 380.1 L957.4 379.7 L958.5 380.9 L959.3 379.2 L960.2 371.3 L961.1 366.9 L962.0 368.7 L962.8 372.2 L963.7 377.4 L964.6 374.8 L965.5 373.9 L966.3 373.1 L967.2 372.2 L968.3 371.3 L969.0 374.8 L969.8 378.3 L970.7 383.6 L971.6 381.8 L972.5 378.3 L973.3 376.6 L974.2 377.4 L975.1 375.7 L976.0 374.8 L976.8 373.4 L977.7 375.7 L978.6 377.4 L979.5 376.6 L980.4 375.7 L981.2 380.1 L982.1 377.4 L983.0 373.9 L983.9 372.2 L984.7 366.1 L985.6 360.8 L986.5 354.7 L987.4 352.0 L988.2 351.2 L989.1 353.8 L990.0 355.5 L990.9 356.4 L991.7 354.7 L992.4 347.7 L993.1 339.8 L993.8 333.6 L994.7 331.9 L995.6 332.8 L996.5 336.3 L997.3 342.4 L998.2 347.7 L999.1 352.9 L1000.0 356.4 L1000.8 352.0 L1001.7 354.7 L1002.6 359.0 L1003.5 360.8 L1004.5 362.2 L1005.6 361.7 L1006.6 362.5 L1007.7 365.2 L1008.7 366.9 L1009.8 369.6 L1010.7 373.1 L1011.4 376.2 L1012.2 372.2 L1013.1 370.4 L1014.0 372.2 L1014.9 367.8 L1015.7 361.7 L1016.6 357.3 L1017.5 358.2 L1018.4 362.5 L1019.2 366.9 L1020.1 370.4 L1021.0 371.3 L1021.9 369.6 L1022.7 366.9 L1023.6 363.4 L1024.7 360.8 L1025.7 359.9 L1026.6 357.3 L1027.5 354.7 L1028.4 351.2 L1029.1 345.9 L1029.8 340.7 L1030.6 337.1 L1031.7 335.9 L1032.7 336.6 L1033.8 337.7 L1034.8 336.3 L1035.9 336.6 L1036.9 335.4 L1038.0 334.5 L1039.0 333.6 L1040.1 336.3 L1041.1 337.4 L1042.4 338.7 L1043.8 339.7 L1045.0 338.3 L1046.0 336.2 L1047.3 333.9 L1048.5 331.7 L1049.4 328.7 L1050.1 319.0 L1050.6 308.5 L1051.1 298.0 L1051.8 288.4 L1052.7 287.5 L1053.4 294.5 L1053.9 302.4 L1054.6 309.4 L1055.3 304.2 L1056.2 302.4 L1057.3 305.0 L1058.3 306.4 L1059.5 307.1 L1060.6 307.7 L1061.3 301.5 L1062.0 294.5 L1062.7 291.9 L1063.6 293.6 L1064.4 297.1 L1065.3 299.8 L1066.2 298.9 L1067.1 295.4 L1067.9 291.9 L1068.8 291.0 L1069.7 291.9 L1070.6 287.5 L1071.3 286.6 L1072.1 291.9 L1073.0 294.5 L1073.7 298.9 L1074.4 304.2 L1075.3 308.5 L1076.2 312.9 L1077.0 318.2 L1078.1 317.6 L1079.2 316.9 L1080.2 316.4 L1081.3 315.9 L1082.3 312.0 L1083.2 307.7 L1084.1 303.3 L1084.9 300.1 L1085.8 299.8 L1086.7 303.3 L1087.6 305.9 L1088.6 306.8 L1089.7 307.7 L1090.7 307.1 L1091.6 309.4 L1092.5 311.2 L1093.3 312.9 L1094.2 311.7 L1095.1 309.4 L1096.0 312.0 L1097.0 313.4 L1098.1 314.7 L1099.1 316.9 L1100.2 316.4 L1101.2 318.2 L1102.3 319.4 L1103.3 318.7 L1104.4 316.9 L1105.4 316.4 L1106.5 318.2 L1107.5 319.9 L1108.4 322.5 L1109.3 326.1 L1110.2 329.6 L1111.2 329.2 L1112.3 327.5 L1113.3 326.1 L1114.4 326.9 L1115.4 328.7 L1116.5 330.4 L1117.5 332.2 L1118.6 334.8 L1119.6 337.4 L1120.7 340.1 L1121.7 341.5 L1122.8 339.2 L1123.8 336.6 L1125.1 336.2 L1126.3 336.9 L1127.3 338.0 L1128.4 336.6 L1129.3 338.3 L1130.1 339.7 L1131.0 337.4 L1131.9 339.2 L1132.8 341.5 L1133.6 337.4 L1134.5 331.3 L1135.4 327.8 L1136.3 327.5 L1137.1 329.6 L1138.0 332.2 L1138.9 333.9 L1139.8 331.7 L1140.6 332.7 L1141.5 334.8 L1142.2 340.1 L1142.9 347.1 L1143.6 354.1 L1144.3 357.6 L1145.2 354.1 L1146.3 352.0 L1147.3 349.7 L1148.4 348.8 L1149.4 347.1 L1150.5 345.7 L1151.5 343.6 L1152.6 342.2 L1153.6 341.5 L1154.7 342.7 L1155.5 345.3 L1156.2 349.7 L1156.9 350.9 L1157.6 347.9 L1158.5 345.3 L1159.0 345.2 L1160.1 343.1 L1161.3 341.6 L1162.4 339.5 L1163.6 337.3 L1164.7 335.2 L1165.9 332.7 L1167.0 329.4 L1168.2 327.3 L1169.0 329.4 L1169.9 333.0 L1170.8 334.5 L1171.6 333.7 L1172.5 330.2 L1173.3 325.1 L1174.2 320.8 L1175.1 318.7 L1175.9 314.4 L1176.6 310.8 L1177.3 312.2 L1178.1 317.3 L1178.8 321.6 L1179.6 323.0 L1180.5 322.7 L1181.4 321.6 L1182.2 318.0 L1183.1 313.7 L1183.9 308.7 L1184.8 304.4 L1185.7 302.2 L1186.4 306.5 L1187.1 305.8 L1187.8 303.6 L1188.5 301.5 L1189.4 297.9 L1190.3 294.3 L1191.0 293.6 L1191.7 295.8 L1192.5 298.6 L1193.4 301.5 L1194.3 303.6 L1195.1 305.8 L1196.0 306.9 L1196.8 305.8 L1197.7 305.1 L1198.6 305.8 L1199.4 306.5 L1200.6 306.1" fill="none" stroke="#f01818" stroke-width="2.6" stroke-linejoin="round" stroke-linecap="round" clip-path="url(#dn)"/>
<text transform="translate(4.80,310.57) scale(0.1168,0.1126)" font-size="100" font-weight="400" fill="#e6e6e6" stroke="#e6e6e6" stroke-width="2.179" stroke-linejoin="round">$66 500</text>
<text transform="translate(4.80,365.57) scale(0.1168,0.1126)" font-size="100" font-weight="400" fill="#e6e6e6" stroke="#e6e6e6" stroke-width="2.179" stroke-linejoin="round">$66 000</text>
<text transform="translate(4.80,420.57) scale(0.1168,0.1126)" font-size="100" font-weight="400" fill="#e6e6e6" stroke="#e6e6e6" stroke-width="2.179" stroke-linejoin="round">$65 500</text>
<text transform="translate(4.80,475.57) scale(0.1168,0.1126)" font-size="100" font-weight="400" fill="#e6e6e6" stroke="#e6e6e6" stroke-width="2.179" stroke-linejoin="round">$65 000</text>
<text transform="translate(4.80,530.58) scale(0.1168,0.1126)" font-size="100" font-weight="400" fill="#e6e6e6" stroke="#e6e6e6" stroke-width="2.179" stroke-linejoin="round">$64 500</text>
<text transform="translate(4.80,585.58) scale(0.1168,0.1126)" font-size="100" font-weight="400" fill="#e6e6e6" stroke="#e6e6e6" stroke-width="2.179" stroke-linejoin="round">$64 000</text>
<text transform="translate(9.90,617.98) scale(0.1241,0.1156)" font-size="100" font-weight="400" fill="#e6e6e6" stroke="#e6e6e6" stroke-width="2.086" stroke-linejoin="round">21:00</text>
<text transform="translate(155.77,617.98) scale(0.1212,0.1156)" font-size="100" font-weight="400" fill="#e6e6e6" stroke="#e6e6e6" stroke-width="2.112" stroke-linejoin="round">22. Apr</text>
<text transform="translate(310.04,617.98) scale(0.1235,0.1156)" font-size="100" font-weight="400" fill="#e6e6e6" stroke="#e6e6e6" stroke-width="2.091" stroke-linejoin="round">03:00</text>
<text transform="translate(460.04,617.98) scale(0.1235,0.1156)" font-size="100" font-weight="400" fill="#e6e6e6" stroke="#e6e6e6" stroke-width="2.091" stroke-linejoin="round">06:00</text>
<text transform="translate(610.04,617.98) scale(0.1235,0.1156)" font-size="100" font-weight="400" fill="#e6e6e6" stroke="#e6e6e6" stroke-width="2.091" stroke-linejoin="round">09:00</text>
<text transform="translate(759.57,617.98) scale(0.1255,0.1156)" font-size="100" font-weight="400" fill="#e6e6e6" stroke="#e6e6e6" stroke-width="2.075" stroke-linejoin="round">12:00</text>
<text transform="translate(909.57,617.98) scale(0.1255,0.1156)" font-size="100" font-weight="400" fill="#e6e6e6" stroke="#e6e6e6" stroke-width="2.075" stroke-linejoin="round">15:00</text>
<text transform="translate(1059.57,617.98) scale(0.1255,0.1156)" font-size="100" font-weight="400" fill="#e6e6e6" stroke="#e6e6e6" stroke-width="2.075" stroke-linejoin="round">18:00</text>
<circle cx="75.1" cy="63.1" r="25.2" fill="#f7931a"/>
<path transform="translate(45.90,33.70) scale(0.9125)" fill="#fff" d="M46.11 27.441c.636-4.258-2.606-6.547-7.039-8.074l1.438-5.768-3.512-.875-1.4 5.616c-.922-.23-1.87-.447-2.812-.662l1.41-5.653-3.509-.875-1.439 5.766c-.764-.174-1.514-.346-2.242-.527l.004-.018-4.842-1.209-.934 3.75s2.605.597 2.55.634c1.422.355 1.68 1.296 1.636 2.042l-1.638 6.571c.098.025.225.061.365.117l-.37-.092-2.297 9.205c-.174.432-.615 1.08-1.609.834.035.051-2.552-.637-2.552-.637l-1.743 4.02 4.57 1.139c.85.213 1.683.436 2.502.646l-1.453 5.835 3.507.875 1.44-5.772c.957.26 1.887.5 2.797.726L27.504 50.8l3.511.875 1.453-5.823c5.987 1.133 10.49.676 12.383-4.738 1.527-4.36-.075-6.875-3.225-8.516 2.294-.531 4.022-2.04 4.483-5.157zM38.087 38.69c-1.086 4.36-8.426 2.004-10.807 1.412l1.928-7.729c2.38.594 10.011 1.77 8.88 6.317zm1.085-11.312c-.99 3.966-7.1 1.951-9.083 1.457l1.748-7.01c1.983.494 8.367 1.416 7.335 5.553z"/>
<text transform="translate(110.38,74.50) scale(0.3166,0.3605)" font-size="100" font-weight="700" fill="#fff" stroke="#fff" stroke-width="2.954" stroke-linejoin="round">Bitcoin</text>
<text transform="translate(225.55,68.65) scale(0.1947,0.1860)" font-size="100" font-weight="400" fill="#fff" stroke="#fff" stroke-width="2.626" stroke-linejoin="round">BTC</text>
<text transform="translate(49.35,136.85) scale(0.1947,0.1962)" font-size="100" font-weight="700" fill="#fff" stroke="#fff" stroke-width="2.558" stroke-linejoin="round">FROM</text>
<text transform="translate(121.01,137.00) scale(0.2018,0.1962)" font-size="100" font-weight="400" fill="#fff" stroke="#fff" stroke-width="1.005" stroke-linejoin="round">04/21/2024</text>
<text transform="translate(239.45,136.85) scale(0.1775,0.1962)" font-size="100" font-weight="700" fill="#fff" stroke="#fff" stroke-width="2.676" stroke-linejoin="round">TO</text>
<text transform="translate(279.48,137.00) scale(0.2107,0.1962)" font-size="100" font-weight="400" fill="#fff" stroke="#fff" stroke-width="0.983" stroke-linejoin="round">04/22/2024</text>
<text transform="translate(902.86,79.40) scale(0.5219,0.5247)" font-size="100" font-weight="700" fill="#fff" stroke="#fff" stroke-width="1.911" stroke-linejoin="round">$</text>
<text transform="translate(933.57,79.40) scale(0.5668,0.5247)" font-size="100" font-weight="700" fill="#fff" stroke="#fff" stroke-width="1.832" stroke-linejoin="round">6</text>
<text transform="translate(965.19,79.40) scale(0.5627,0.5247)" font-size="100" font-weight="700" fill="#fff" stroke="#fff" stroke-width="1.839" stroke-linejoin="round">6</text>
<text transform="translate(993.17,79.40) scale(0.5871,0.5247)" font-size="100" font-weight="700" fill="#fff" stroke="#fff" stroke-width="1.799" stroke-linejoin="round">,</text>
<text transform="translate(1006.04,79.40) scale(0.5482,0.5247)" font-size="100" font-weight="700" fill="#fff" stroke="#fff" stroke-width="1.864" stroke-linejoin="round">6</text>
<text transform="translate(1035.20,79.40) scale(0.5366,0.5247)" font-size="100" font-weight="700" fill="#fff" stroke="#fff" stroke-width="1.884" stroke-linejoin="round">5</text>
<path fill="#fff" d="M1072.97 42.80 L1081.40 42.80 L1081.40 79.90 L1072.97 79.90 L1072.97 54.86 L1065.00 54.86 L1065.00 49.29 C1069.38 48.92 1072.17 45.72 1072.97 42.80 Z"/>
<text transform="translate(1082.64,79.40) scale(0.5031,0.5247)" font-size="100" font-weight="700" fill="#fff" stroke="#fff" stroke-width="1.946" stroke-linejoin="round">.</text>
<text transform="translate(1092.39,79.40) scale(0.5264,0.5247)" font-size="100" font-weight="700" fill="#fff" stroke="#fff" stroke-width="1.903" stroke-linejoin="round">7</text>
<text transform="translate(1119.34,79.40) scale(0.5713,0.5247)" font-size="100" font-weight="700" fill="#fff" stroke="#fff" stroke-width="1.825" stroke-linejoin="round">8</text>
<text transform="translate(877.45,134.85) scale(0.1568,0.1541)" font-size="100" font-weight="400" fill="#fff" stroke="#fff" stroke-width="0.643" stroke-linejoin="round">Captured</text>
<text transform="translate(946.88,134.85) scale(0.1601,0.1476)" font-size="100" font-weight="400" fill="#fff" stroke="#fff" stroke-width="0.650" stroke-linejoin="round">on</text>
<text transform="translate(967.68,134.85) scale(0.1714,0.1541)" font-size="100" font-weight="400" fill="#fff" stroke="#fff" stroke-width="0.615" stroke-linejoin="round">04/22/2024</text>
<text transform="translate(1058.19,134.85) scale(0.1393,0.1541)" font-size="100" font-weight="400" fill="#fff" stroke="#fff" stroke-width="0.682" stroke-linejoin="round">16:28</text>
<text transform="translate(1096.86,134.85) scale(0.1452,0.1541)" font-size="100" font-weight="400" fill="#fff" stroke="#fff" stroke-width="0.668" stroke-linejoin="round">PM</text>
<text transform="translate(1121.94,134.85) scale(0.1351,0.1541)" font-size="100" font-weight="400" fill="#fff" stroke="#fff" stroke-width="0.692" stroke-linejoin="round">EDT</text>
<text transform="translate(49.38,202.00) scale(0.2631,0.2616)" font-size="100" font-weight="400" fill="#fff" stroke="#fff" stroke-width="0.762" stroke-linejoin="round">24H</text>
<path d="M51.3 247.4 L54.3 242.7 Q55.95 240.5 57.6 242.7 L60.6 247.4 Z" fill="#1de070" stroke="#1de070" stroke-width="2" stroke-linejoin="round"/>
<text transform="translate(70.77,248.90) scale(0.3631,0.3445)" font-size="100" font-weight="700" fill="#1de070" stroke="#1de070" stroke-width="2.826" stroke-linejoin="round">3</text>
<text transform="translate(89.69,248.90) scale(0.3331,0.3445)" font-size="100" font-weight="700" fill="#1de070" stroke="#1de070" stroke-width="2.952" stroke-linejoin="round">.</text>
<path fill="#1de070" d="M104.33 224.70 L110.70 224.70 L110.70 249.40 L104.33 249.40 L104.33 232.73 L98.30 232.73 L98.30 229.02 C101.61 228.78 103.72 226.65 104.33 224.70 Z"/>
<text transform="translate(110.76,248.90) scale(0.3708,0.3445)" font-size="100" font-weight="700" fill="#1de070" stroke="#1de070" stroke-width="2.796" stroke-linejoin="round">7</text>
<text transform="translate(132.04,248.90) scale(0.2864,0.3445)" font-size="100" font-weight="700" fill="#1de070" stroke="#1de070" stroke-width="3.170" stroke-linejoin="round">%</text>
<text transform="translate(518.24,202.00) scale(0.2632,0.2602)" font-size="100" font-weight="400" fill="#fff" stroke="#fff" stroke-width="0.764" stroke-linejoin="round">Market</text>
<text transform="translate(605.70,202.00) scale(0.2566,0.2602)" font-size="100" font-weight="400" fill="#fff" stroke="#fff" stroke-width="0.774" stroke-linejoin="round">Cap</text>
<text transform="translate(520.72,248.80) scale(0.3290,0.3445)" font-size="100" font-weight="700" fill="#fff" stroke="#fff" stroke-width="2.969" stroke-linejoin="round">$</text>
<path fill="#fff" d="M546.23 224.60 L552.30 224.60 L552.30 249.30 L546.23 249.30 L546.23 232.63 L540.50 232.63 L540.50 228.92 C543.65 228.68 545.66 226.55 546.23 224.60 Z"/>
<text transform="translate(553.34,248.80) scale(0.3260,0.3445)" font-size="100" font-weight="700" fill="#fff" stroke="#fff" stroke-width="2.983" stroke-linejoin="round">.</text>
<text transform="translate(562.91,248.80) scale(0.3641,0.3445)" font-size="100" font-weight="700" fill="#fff" stroke="#fff" stroke-width="2.822" stroke-linejoin="round">3</text>
<path fill="#fff" d="M588.89 224.60 L594.60 224.60 L594.60 249.30 L588.89 249.30 L588.89 232.63 L583.50 232.63 L583.50 228.92 C586.47 228.68 588.36 226.55 588.89 224.60 Z"/>
<text transform="translate(597.18,248.80) scale(0.3328,0.3445)" font-size="100" font-weight="700" fill="#fff" stroke="#fff" stroke-width="2.953" stroke-linejoin="round">T</text>
<text transform="translate(1014.69,202.00) scale(0.2608,0.2616)" font-size="100" font-weight="400" fill="#fff" stroke="#fff" stroke-width="0.766" stroke-linejoin="round">24H</text>
<text transform="translate(1070.40,202.00) scale(0.2349,0.2616)" font-size="100" font-weight="400" fill="#fff" stroke="#fff" stroke-width="0.806" stroke-linejoin="round">Volume</text>
<text transform="translate(1016.72,248.80) scale(0.3290,0.3445)" font-size="100" font-weight="700" fill="#fff" stroke="#fff" stroke-width="2.969" stroke-linejoin="round">$</text>
<text transform="translate(1036.65,248.80) scale(0.3469,0.3445)" font-size="100" font-weight="700" fill="#fff" stroke="#fff" stroke-width="2.893" stroke-linejoin="round">2</text>
<text transform="translate(1056.53,248.80) scale(0.3600,0.3445)" font-size="100" font-weight="700" fill="#fff" stroke="#fff" stroke-width="2.839" stroke-linejoin="round">6</text>
<text transform="translate(1075.80,248.80) scale(0.3614,0.3445)" font-size="100" font-weight="700" fill="#fff" stroke="#fff" stroke-width="2.833" stroke-linejoin="round">.</text>
<text transform="translate(1084.91,248.80) scale(0.3662,0.3445)" font-size="100" font-weight="700" fill="#fff" stroke="#fff" stroke-width="2.814" stroke-linejoin="round">6</text>
<text transform="translate(1105.72,248.80) scale(0.3491,0.3445)" font-size="100" font-weight="700" fill="#fff" stroke="#fff" stroke-width="2.884" stroke-linejoin="round">4</text>
<text transform="translate(1126.54,248.45) scale(0.2624,0.3343)" font-size="100" font-weight="700" fill="#fff" stroke="#fff" stroke-width="5.698" stroke-linejoin="round">B</text>
<g><path d="M888.85 545.85 L905.40 545.85" stroke="#1b1b1b" stroke-width="9.6" stroke-linecap="round" fill="none"/><path d="M905.40 545.85 L921.80 545.85" stroke="#1b1b1b" stroke-width="9.6" stroke-linecap="round" fill="none"/><path d="M888.85 545.85 L888.85 562.40" stroke="#1b1b1b" stroke-width="9.6" stroke-linecap="round" fill="none"/><path d="M888.85 562.40 L888.85 578.80" stroke="#1b1b1b" stroke-width="9.6" stroke-linecap="round" fill="none"/><path d="M888.85 578.80 L905.40 578.80" stroke="#1b1b1b" stroke-width="9.6" stroke-linecap="round" fill="none"/><circle cx="888.85" cy="545.85" r="7.0" fill="#1b1b1b"/><circle cx="905.40" cy="545.85" r="7.0" fill="#1b1b1b"/><circle cx="921.80" cy="545.85" r="7.0" fill="#1b1b1b"/><circle cx="888.85" cy="562.40" r="7.0" fill="#1b1b1b"/><circle cx="888.85" cy="578.80" r="7.0" fill="#1b1b1b"/><circle cx="905.40" cy="578.80" r="7.0" fill="#1b1b1b"/><path d="M888.85 545.85 L905.40 545.85" stroke="#d4a52a" stroke-width="7.4" stroke-linecap="round" fill="none"/><path d="M905.40 545.85 L921.80 545.85" stroke="#d4a52a" stroke-width="7.4" stroke-linecap="round" fill="none"/><path d="M888.85 545.85 L888.85 562.40" stroke="#d4a52a" stroke-width="7.4" stroke-linecap="round" fill="none"/><path d="M888.85 562.40 L888.85 578.80" stroke="#d4a52a" stroke-width="7.4" stroke-linecap="round" fill="none"/><path d="M888.85 578.80 L905.40 578.80" stroke="#d4a52a" stroke-width="7.4" stroke-linecap="round" fill="none"/><circle cx="888.85" cy="545.85" r="6.05" fill="#d4a52a"/><circle cx="905.40" cy="545.85" r="6.05" fill="#d4a52a"/><circle cx="921.80" cy="545.85" r="6.05" fill="#d4a52a"/><circle cx="888.85" cy="562.40" r="6.05" fill="#d4a52a"/><circle cx="888.85" cy="578.80" r="6.05" fill="#d4a52a"/><circle cx="905.40" cy="578.80" r="6.05" fill="#d4a52a"/><circle cx="905.40" cy="562.40" r="3.6" fill="#1b1b1b"/><circle cx="905.40" cy="562.40" r="2.6" fill="#e0b840"/><circle cx="921.80" cy="562.40" r="3.6" fill="#1b1b1b"/><circle cx="921.80" cy="562.40" r="2.6" fill="#e0b840"/><circle cx="921.80" cy="578.80" r="3.6" fill="#1b1b1b"/><circle cx="921.80" cy="578.80" r="2.6" fill="#e0b840"/></g>
<text transform="translate(930.32,582.40) scale(0.4818,0.5073)" font-size="100" font-weight="700" fill="#c8c8c8" stroke="#c8c8c8" stroke-width="2.022" stroke-linejoin="round">CoinDesk</text>
</svg></body></html>
